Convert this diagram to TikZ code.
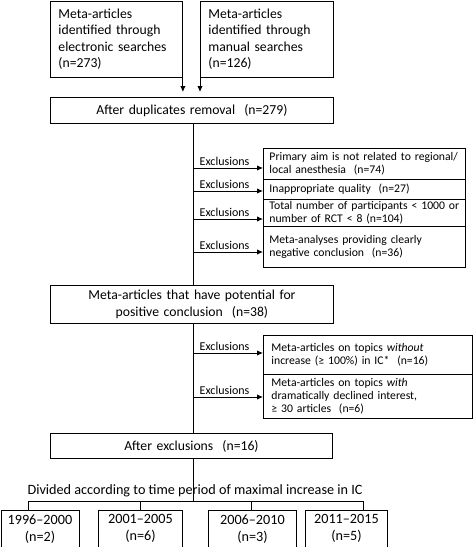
\documentclass[tikz,border=0pt]{standalone}
\usepackage{fontspec}
\setmainfont{Carlito}
\usetikzlibrary{arrows.meta}
\begin{document}
\begin{tikzpicture}[x=1pt,y=-1pt,
  bx/.style={draw, line width=0.9pt, anchor=north west, inner ysep=0pt},
  boxl/.style={bx, align=left},
  boxc/.style={bx, align=center},
  ln/.style={line width=0.9pt},
  arr/.style={line width=0.9pt, -{Latex[length=6pt,width=5.5pt]}},
  exl/.style={font=\fontsize{12}{13}\selectfont, above, inner sep=1.5pt},
  fsA/.style={font=\fontsize{13.7}{16.5}\selectfont},
  fsB/.style={font=\fontsize{11.7}{12.8}\selectfont},
  fsC/.style={font=\fontsize{14.2}{17}\selectfont}]
\useasboundingbox (0,0) rectangle (473,547);
% top boxes
\node[boxl, fsA, inner xsep=8pt, text width=116pt, minimum width=132pt, minimum height=76pt] (t1) at (50,0.5)
  {Meta-articles\\identified through\\electronic searches\\(n=273)};
\node[boxl, fsA, inner xsep=8pt, text width=117pt, minimum width=133pt, minimum height=76pt] (t2) at (200,0.5)
  {Meta-articles\\identified through\\manual searches\\(n=126)};
% after duplicates
\node[boxc, fsA, text width=283pt, inner xsep=0pt, minimum height=26pt] (dup) at (50,97)
  {After duplicates removal\ \ (n=279)};
\draw[arr, shorten >=5pt] (t1.south east) -- (t1.south east |- dup.north);
\draw[arr, shorten >=5pt] (t2.south west) -- (t2.south west |- dup.north);
% exclusion boxes 1
\node[boxl, fsB, inner xsep=6pt, text width=190pt, minimum height=31pt] (e1) at (263,148)
  {Primary aim is not related to regional/\\local anesthesia\ \ (n=74)};
\node[boxl, fsB, inner xsep=6pt, text width=190pt, minimum height=20pt] (e2) at (263,179)
  {Inappropriate quality\ \ (n=27)};
\node[boxl, fsB, inner xsep=6pt, text width=190pt, minimum height=27pt] (e3) at (263,199)
  {Total number of participants < 1000 or\\number of RCT < 8 (n=104)};
\node[boxl, fsB, inner xsep=6pt, text width=190pt, minimum height=41pt] (e4) at (263,226)
  {Meta-analyses providing clearly\\negative conclusion\ \ (n=36)};
% meta box
\node[boxc, fsA, text width=283pt, inner xsep=0pt, minimum height=38pt] (meta) at (50,285)
  {Meta-articles that have potential for\\positive conclusion\ \ (n=38)};
\draw[ln] (dup.south -| 193,0) -- (meta.north -| 193,0);
\coordinate (a1) at (193,168);
\coordinate (a2) at (193,191);
\coordinate (a3) at (193,219);
\coordinate (a4) at (193,252);
\draw[arr] (a1) -- node[exl, pos=0.45] {Exclusions} (a1 -| e1.west);
\draw[arr] (a2) -- node[exl, pos=0.45] {Exclusions} (a2 -| e2.west);
\draw[arr] (a3) -- node[exl, pos=0.45] {Exclusions} (a3 -| e3.west);
\draw[arr] (a4) -- node[exl, pos=0.45] {Exclusions} (a4 -| e4.west);
% exclusion boxes 2
\node[boxl, fsB, inner xsep=8pt, text width=193pt, minimum height=39pt] (f1) at (263,335)
  {Meta-articles on topics \textit{without}\\increase (≥ 100\%) in IC*\ \ (n=16)};
\node[boxl, fsB, inner xsep=8pt, text width=193pt, minimum height=44pt] (f2) at (263,374)
  {Meta-articles on topics \textit{with}\\dramatically declined interest,\\≥ 30 articles\ \ (n=6)};
% after exclusions
\node[boxc, fsA, text width=282pt, inner xsep=0pt, minimum height=25pt] (aft) at (50,433)
  {After exclusions\ \ (n=16)};
\draw[ln] (meta.south -| 193,0) -- (aft.north -| 193,0);
\coordinate (c1) at (193,353);
\coordinate (c2) at (193,397);
\draw[arr] (c1) -- node[exl, pos=0.45] {Exclusions} (c1 -| f1.west);
\draw[arr] (c2) -- node[exl, pos=0.45] {Exclusions} (c2 -| f2.west);
% division
\node[font=\fontsize{14.2}{17}\selectfont, inner sep=0pt] (div) at (195,491) {Divided according to time period of maximal increase in IC};
\coordinate (hub) at (193,501);
\draw[ln] (aft.south -| 193,0) -- (hub);
\coordinate (d1) at (28,501);
\coordinate (d2) at (140,501);
\coordinate (d3) at (251,501);
\coordinate (d4) at (363,501);
\draw[ln] (d1) -- (d4);
\node[boxc, fsC, inner xsep=0pt, text width=78pt, minimum height=36.5pt] (b1) at (0.5,510) {1996–2000\\(n=2)};
\node[boxc, fsC, inner xsep=0pt, text width=84pt, minimum height=36.5pt] (b2) at (98,510) {2001–2005\\(n=6)};
\node[boxc, fsC, inner xsep=0pt, text width=88pt, minimum height=36.5pt] (b3) at (208,510) {2006–2010\\(n=3)};
\node[boxc, fsC, inner xsep=0pt, text width=82pt, minimum height=36.5pt] (b4) at (305,510) {2011–2015\\(n=5)};
\draw[ln] (d1) -- (d1 |- b1.north);
\draw[ln] (d2) -- (d2 |- b2.north);
\draw[ln] (d3) -- (d3 |- b3.north);
\draw[ln] (d4) -- (d4 |- b4.north);
\end{tikzpicture}
\end{document}
